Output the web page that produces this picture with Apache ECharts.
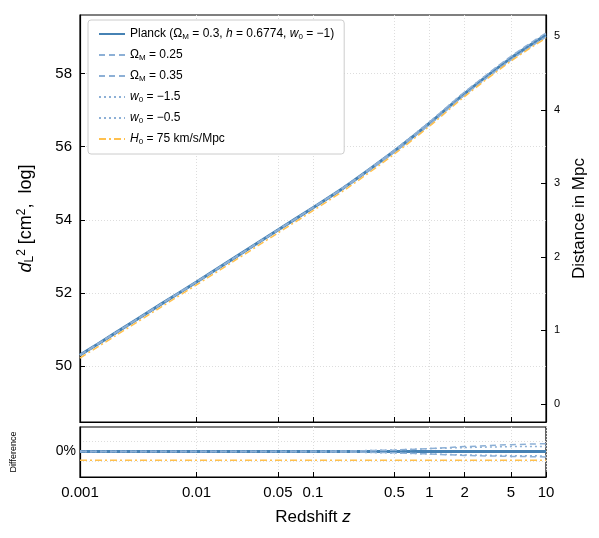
<!DOCTYPE html>
<html>
<head>
<meta charset="utf-8">
<script src="https://cdn.jsdelivr.net/npm/echarts@6/dist/echarts.min.js"></script>
<style>html,body{margin:0;background:#fff}#chart{width:599px;height:538px}</style>
</head>
<body>
<div id="chart"></div>
<script>
const redshift = [0.001, 0.002, 0.005, 0.01, 0.02, 0.05, 0.1, 0.2, 0.5, 1, 2, 5, 10]
const planck = [50.3, 50.9, 51.7, 52.3, 52.91, 53.72, 54.33, 54.96, 55.88, 56.64, 57.45, 58.42, 59.05]
const omega025 = [50.3, 50.9, 51.7, 52.3, 52.91, 53.72, 54.33, 54.97, 55.9, 56.67, 57.49, 58.47, 59.11]
const omega035 = [50.3, 50.9, 51.7, 52.3, 52.91, 53.72, 54.33, 54.95, 55.86, 56.61, 57.41, 58.37, 59.0]
const wMinus15 = [50.3, 50.9, 51.7, 52.3, 52.91, 53.72, 54.33, 54.97, 55.91, 56.68, 57.49, 58.46, 59.09]
const wMinus05 = [50.3, 50.9, 51.7, 52.3, 52.91, 53.72, 54.33, 54.95, 55.85, 56.6, 57.41, 58.38, 59.01]
const h75 = [50.22, 50.82, 51.62, 52.22, 52.83, 53.64, 54.25, 54.88, 55.8, 56.56, 57.37, 58.34, 58.97]
// differences in percent
const diffPlanck = [0, 0, 0, 0, 0, 0, 0, 0, 0, 0, 0, 0, 0]
const diff025 = [0, 0, 0, 0, 0, 0.2, 0.5, 1, 3, 6, 10, 14, 16]
const diff035 = [0, 0, 0, 0, 0, -0.2, -0.4, -1, -2.5, -5, -8, -10, -11]
const diffW15 = [0, 0, 0, 0, 0, 0.3, 0.6, 1.2, 3, 6, 8, 10, 10]
const diffW05 = [0, 0, 0, 0, 0, -0.3, -0.6, -1.2, -3, -5, -7, -8.5, -9]
const diffH75 = [-18, -18, -18, -18, -18, -18, -18, -18, -18, -18, -18, -18, -18]
const xTicks = [0.001, 0.01, 0.05, 0.1, 0.5, 1, 2, 5, 10]
const leftTicks = [50, 52, 54, 56, 58]
const rightTicks = [0, 1, 2, 3, 4, 5]
const diffTicks = [-20, 0, 20]

const names = ['Planck', 'OM025', 'OM035', 'W15', 'W05', 'H75']
const blue = '#4682b4', light = '#8db0d6', orange = '#ffc04d'
const styles = [
  { color: blue, width: 3, type: 'solid' },
  { color: light, width: 1.5, type: [6, 4] },
  { color: light, width: 1.5, type: [6, 4] },
  { color: light, width: 1.5, type: [2, 3] },
  { color: light, width: 1.5, type: [2, 3] },
  { color: orange, width: 1.5, type: [7, 3, 2, 3] },
]
const topData = [planck, omega025, omega035, wMinus15, wMinus05, h75]
const botData = [diffPlanck, diff025, diff035, diffW15, diffW05, diffH75]
const labels = {
  Planck: 'Planck ({g|Ω}{s|M} = 0.3, {i|h} = 0.6774, {i|w}{s|0} = −1)',
  OM025: '{g|Ω}{s|M} = 0.25',
  OM035: '{g|Ω}{s|M} = 0.35',
  W15: '{i|w}{s|0} = −1.5',
  W05: '{i|w}{s|0} = −0.5',
  H75: '{i|H}{s|0} = 75 km/s/Mpc',
}
const font = 'Liberation Sans'
const grid = { show: true, lineStyle: { type: [1, 2], color: '#ddd' } }
const tick = { show: true, inside: true, length: 5, lineStyle: { color: '#000' } }
const line = { onZero: false, lineStyle: { color: '#000', width: 1.2 } }

const chart = echarts.init(document.getElementById('chart'))
const series = []
names.forEach((n, k) => {
  const s = styles[k]
  series.push({ name: n, type: 'line', xAxisIndex: 0, yAxisIndex: 0, symbol: 'none', smooth: 0.3, z: k === 0 ? 1 : 2,
    lineStyle: s, itemStyle: { color: s.color }, data: redshift.map((z, i) => [z, topData[k][i]]) })
  series.push({ name: n, type: 'line', xAxisIndex: 1, yAxisIndex: 2, symbol: 'none', z: k === 0 ? 1 : 2,
    lineStyle: s, itemStyle: { color: s.color }, data: redshift.map((z, i) => [z, botData[k][i]]) })
})

chart.setOption({
  animation: false,
  textStyle: { fontFamily: font },
  grid: [
    { left: 80, top: 15, width: 466, height: 407, show: true, borderColor: '#000', borderWidth: 1.2 },
    { left: 80, top: 427, width: 466, height: 50, show: true, borderColor: '#000', borderWidth: 1.2 },
  ],
  legend: {
    orient: 'vertical', left: 88, top: 20, itemGap: 8, itemWidth: 26, itemHeight: 10,
    backgroundColor: '#fff', borderColor: '#ccc', borderWidth: 1, borderRadius: 3, padding: [8, 10],
    itemStyle: { opacity: 0 },
    data: names,
    formatter: n => labels[n],
    textStyle: { fontFamily: font, fontSize: 12, color: '#000',
      rich: { g: { fontSize: 12, fontFamily: font }, i: { fontStyle: 'italic', fontSize: 12, fontFamily: font },
        s: { fontSize: 8, verticalAlign: 'bottom', fontFamily: font, padding: [6, 0, 0, 0] } } },
  },
  xAxis: [
    { type: 'log', gridIndex: 0, min: 0.001, max: 10, position: 'bottom', axisLine: line,
      axisTick: { ...tick, customValues: xTicks }, axisLabel: { show: false }, splitLine: grid },
    { type: 'log', gridIndex: 1, min: 0.001, max: 10, axisLine: line,
      axisTick: { ...tick, customValues: xTicks }, splitLine: grid,
      axisLabel: { customValues: xTicks, fontSize: 15, color: '#000', margin: 8, formatter: v => String(v) },
      name: 'Redshift {i|z}', nameLocation: 'middle', nameGap: 32,
      nameTextStyle: { fontSize: 17, color: '#000', rich: { i: { fontStyle: 'italic', fontSize: 17 } } } },
  ],
  yAxis: [
    { type: 'value', gridIndex: 0, min: 48.47, max: 59.6, axisLine: line,
      axisTick: { ...tick, customValues: leftTicks }, splitLine: { ...grid, customValues: leftTicks },
      axisLabel: { customValues: leftTicks, fontSize: 15, color: '#000' },
      name: '{i|d}{s|L}{p|2} [cm{p|2},  log]', nameLocation: 'middle', nameGap: 44, nameRotate: 90,
      nameTextStyle: { fontSize: 18, color: '#000',
        rich: { i: { fontStyle: 'italic', fontSize: 18 }, s: { fontSize: 12, verticalAlign: 'bottom', padding: [8, 0, 0, 0] },
          p: { fontSize: 12, verticalAlign: 'top', padding: [0, 0, 8, 0] } } } },
    { type: 'value', gridIndex: 0, min: -0.245, max: 5.29, position: 'right', axisLine: line,
      axisTick: { ...tick, customValues: rightTicks }, splitLine: { show: false },
      axisLabel: { customValues: rightTicks, fontSize: 11, color: '#000' },
      name: 'Distance in Mpc', nameLocation: 'middle', nameGap: 24, nameRotate: 90,
      nameTextStyle: { fontSize: 17, color: '#000' } },
    { type: 'value', gridIndex: 1, min: -52, max: 50, axisLine: line,
      axisTick: { ...tick, customValues: diffTicks }, splitLine: { ...grid, customValues: diffTicks },
      axisLabel: { customValues: diffTicks, hideOverlap: false, fontSize: 14, lineHeight: 10, color: '#000', margin: 4,
        formatter: v => (v > 0 ? '+' : '') + v + '%' },
      name: 'Difference', nameLocation: 'middle', nameGap: 62, nameRotate: 90,
      nameTextStyle: { fontSize: 9, color: '#000' } },
  ],
  series,
})
</script>
</body>
</html>
